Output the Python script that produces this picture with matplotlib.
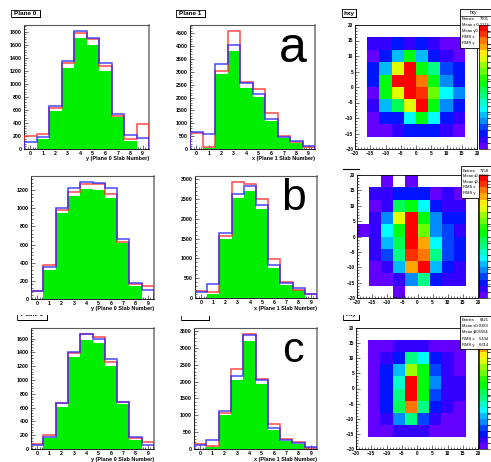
import colorsys
import numpy as np
import matplotlib
matplotlib.use('Agg')
import matplotlib.pyplot as plt
from matplotlib.patches import Rectangle
from matplotlib.lines import Line2D
from matplotlib.colors import ListedColormap, BoundaryNorm
from matplotlib.ticker import MultipleLocator
from matplotlib.transforms import Bbox, TransformedBbox

plt.rcParams['font.family'] = ['Liberation Sans', 'DejaVu Sans']
plt.rcParams['font.weight'] = 'bold'

# --------------------------------------------
# dados

slab_edges = np.arange(11) - 0.5

# linha a
p0_red_a = [200, 230, 635, 1325, 1780, 1680, 1270, 510, 150, 380]
p0_blue_a = [100, 180, 655, 1355, 1810, 1705, 1320, 530, 210, 170]
p0_green_a = [0, 160, 590, 1240, 1700, 1600, 1200, 490, 130, 0]
p1_red_a = [640, 90, 3050, 4600, 2600, 2320, 1410, 510, 270, 90]
p1_blue_a = [660, 580, 3300, 4050, 2560, 2130, 1170, 480, 300, 100]
p1_green_a = [0, 40, 2910, 3800, 2390, 2010, 1090, 440, 220, 0]

# linha b
p0_red_b = [90, 375, 980, 1175, 1270, 1270, 1155, 630, 160, 140]
p0_blue_b = [85, 355, 1000, 1220, 1290, 1275, 1220, 660, 175, 100]
p0_green_b = [0, 320, 945, 1130, 1210, 1205, 1115, 615, 140, 0]
p1_red_b = [170, 150, 1560, 2940, 2880, 2500, 980, 400, 210, 100]
p1_blue_b = [160, 350, 1650, 2640, 2840, 2360, 840, 380, 265, 100]
p1_green_b = [0, 100, 1500, 2530, 2720, 2240, 760, 340, 200, 0]

# linha c
p0_red_c = [70, 200, 665, 1385, 1670, 1630, 1255, 680, 155, 95]
p0_blue_c = [60, 180, 660, 1400, 1660, 1600, 1305, 680, 180, 60]
p0_green_c = [0, 160, 615, 1330, 1575, 1530, 1205, 645, 135, 0]
p1_red_c = [140, 75, 1070, 2370, 3420, 2080, 730, 300, 200, 30]
p1_blue_c = [130, 265, 1140, 2170, 3380, 2050, 610, 270, 190, 60]
p1_green_c = [0, 50, 1000, 2060, 3210, 1940, 560, 240, 145, 0]

# hxy: linhas de cima (y 12..16) para baixo (y -16..-12), x de -16 a 16
hxy_a = [
    [40, 40, 66, 40, 66, 40, 13, 13],
    [13, 66, 146, 278, 146, 66, 40, 13],
    [66, 146, 384, 517, 278, 225, 93, 66],
    [66, 278, 517, 517, 464, 278, 119, 66],
    [13, 278, 384, 517, 490, 331, 172, 119],
    [40, 146, 252, 384, 517, 278, 119, 66],
    [13, 66, 66, 172, 278, 172, 66, 40],
    [13, 13, 40, 66, 66, 66, 40, 13],
]
hxy_b = [
    [32, 32, 54, 54, 54, 11, 32, 11],
    [11, 32, 204, 226, 140, 54, 32, 32],
    [32, 97, 312, 419, 226, 97, 54, 54],
    [32, 140, 226, 419, 269, 97, 75, 32],
    [32, 118, 204, 419, 355, 140, 75, 54],
    [32, 75, 183, 398, 376, 183, 75, 54],
    [11, 32, 118, 355, 419, 118, 54, 32],
    [11, 11, 32, 97, 183, 54, 32, 32],
]
# celulas fora da grade 8x8: (x esquerdo, y de baixo, conteudo)
hxy_b_extra = [(-12, 16, 11), (-4, 16, 11), (-20, 0, 11), (-8, -20, 11)]
hxy_c = [
    [17, 17, 52, 52, 52, 17, 17, 17],
    [17, 52, 86, 293, 224, 86, 52, 17],
    [17, 86, 190, 466, 362, 121, 52, 17],
    [17, 86, 259, 673, 362, 155, 52, 52],
    [17, 86, 293, 673, 362, 121, 52, 52],
    [17, 86, 328, 604, 293, 86, 52, 17],
    [17, 52, 155, 293, 121, 52, 17, 17],
    [17, 17, 52, 52, 52, 17, 17, 17],
]

stats_a = [("Entries", "7601"), ("Mean x", "-0.2113"), ("Mean y", "-0.3046"),
           ("RMS x", "6.102"), ("RMS y", "6.874")]
stats_b = [("Entries", "7158"), ("Mean x", "-0.0332"), ("Mean y", "-0.4127"),
           ("RMS x", "5.933"), ("RMS y", "7.215")]
stats_c = [("Entries", "6421"), ("Mean x", "-0.0383"), ("Mean y", "0.05564"),
           ("RMS x", "5.434"), ("RMS y", "6.614")]

# --------------------------------------------
# figura em pixels

W, H = 491, 462
fig = plt.figure(figsize=(W / 100, H / 100), dpi=100)


def fx(x):
    return x / W


def fy(y):
    return 1 - y / H


def px_axes(l, t, r, b):
    return fig.add_axes([fx(l), fy(b), (r - l) / W, (b - t) / H])


def fline(xs, ys, **kw):
    fig.add_artist(Line2D([fx(x) for x in xs], [fy(y) for y in ys],
                          transform=fig.transFigure, **kw))


def title_box(l, t, r, b, text, cut=None):
    # cut: y acima do qual a caixa foi cortada na montagem
    top = t if cut is None else cut
    fig.add_artist(Rectangle((fx(l + 1), fy(b + 1)), (r - l) / W, (b + 1 - max(top, t + 1)) / H,
                             transform=fig.transFigure, facecolor='black',
                             edgecolor='none', zorder=4))
    fig.add_artist(Rectangle((fx(l), fy(b)), (r - l) / W, (b - top) / H,
                             transform=fig.transFigure, facecolor='white',
                             edgecolor='none', zorder=5))
    fline([l, l, r, r], [top, b, b, top], color='black', lw=0.6, zorder=5.5)
    if cut is None:
        fline([l, r], [t, t], color='black', lw=0.6, zorder=5.5)
    txt = fig.text(fx((l + r) / 2), fy((t + b) / 2 + 0.3), text, fontsize=4.6,
                   ha='center', va='center', zorder=6)
    if cut is not None:
        clip = TransformedBbox(Bbox([[fx(l), fy(b)], [fx(r), fy(top)]]), fig.transFigure)
        txt.set_clip_box(clip)
        txt.set_clip_on(True)


def hist_panel(box, red, blue, green, major, xlabel, label_y):
    ax = px_axes(*box)
    ax.stairs(green, slab_edges, fill=True, color='#00ee00', lw=0, zorder=2)
    ax.stairs(red, slab_edges, color='#ff2828', lw=1.1, alpha=0.85, zorder=3)
    ax.stairs(blue, slab_edges, color='#2828ff', lw=1.1, alpha=0.85, zorder=3)
    ax.set_xlim(-0.5, 9.5)
    ax.set_ylim(0, 1.05 * max(max(red), max(blue), max(green)))
    ax.set_axisbelow(True)
    ax.xaxis.set_major_locator(MultipleLocator(1))
    ax.xaxis.set_minor_locator(MultipleLocator(0.2))
    ax.yaxis.set_major_locator(MultipleLocator(major))
    ax.yaxis.set_minor_locator(MultipleLocator(major / 5))
    ax.tick_params(which='both', direction='in', labelsize=3.8, pad=1.5, width=0.4)
    ax.tick_params(which='major', length=3)
    ax.tick_params(which='minor', length=1.5)
    for s in ['left', 'bottom']:
        ax.spines[s].set_linewidth(0.6)
    ax.spines['top'].set_color('0.35')
    ax.spines['top'].set_linewidth(0.8)
    ax.spines['right'].set_color('0.45')
    ax.spines['right'].set_linewidth(1.1)
    fig.text(fx(box[2]), fy(label_y), xlabel, fontsize=4.0, ha='right', va='center')
    return ax


# palheta "pretty" do ROOT, 20 niveis
pal = []
for k in range(20):
    i = min(int((k + 0.99) * 50 / 20), 49)
    hue = 280 - (i + 1) * 5.6
    pal.append(colorsys.hls_to_rgb(hue / 360, 0.5, 1.0))
root_cmap = ListedColormap(pal)


def hxy_panel(box, cbox, grid, extra, vmax, cstep, lines, stat_box, cbar_on_top):
    full = np.full((10, 10), np.nan)
    full[1:9, 1:9] = np.array(grid, dtype=float)[::-1]
    for xl, yb, v in extra:
        full[(yb + 20) // 4, (xl + 20) // 4] = v
    cells = np.ma.masked_invalid(full)
    ed = np.arange(-20, 21, 4)
    ax = px_axes(*box)
    norm = BoundaryNorm(np.linspace(0, vmax, 21), 20)
    mesh = ax.pcolormesh(ed, ed, cells, cmap=root_cmap, norm=norm)
    ax.set_xlim(-20, 20)
    ax.set_ylim(-20, 20)
    for a in [ax.xaxis, ax.yaxis]:
        a.set_major_locator(MultipleLocator(5))
        a.set_minor_locator(MultipleLocator(1))
    ax.tick_params(which='both', direction='in', labelsize=3.4, pad=1.2, width=0.4)
    ax.tick_params(which='major', length=3)
    ax.tick_params(which='minor', length=1.5)
    for s in ax.spines.values():
        s.set_linewidth(0.6)

    cax = px_axes(*cbox)
    cb = fig.colorbar(mesh, cax=cax)
    cb.set_ticks(np.arange(0, vmax, cstep))
    cb.outline.set_linewidth(0.5)
    cax.tick_params(direction='out', length=2, width=0.4, labelsize=3.6, pad=0.5)
    if cbar_on_top:
        cax.set_zorder(10)

    l, t, r, b, title, y0, dy = stat_box
    fig.add_artist(Rectangle((fx(l), fy(b)), (r - l) / W, (b - t) / H,
                             transform=fig.transFigure, facecolor='white',
                             edgecolor='black', lw=0.6, zorder=5))
    if title:
        fline([l, r], [t + 7, t + 7], color='k', lw=0.5, zorder=6)
        fig.text(fx(l + 13), fy(t + 3.5), title, fontsize=3.4, ha='center',
                 va='center', fontweight='normal', zorder=6)
    for n, (name, val) in enumerate(lines):
        yy = y0 + n * dy
        fig.text(fx(l + 2), fy(yy), name, fontsize=3.0, ha='left', va='center',
                 fontweight='normal', zorder=6)
        fig.text(fx(489), fy(yy), val, fontsize=3.0, ha='right', va='center',
                 fontweight='normal', zorder=6)
    return ax


# --------------------------------------------
# linha a
hist_panel((24, 25, 149, 149), p0_red_a, p0_blue_a, p0_green_a, 200,
           'y (Plane 0 Slab Number)', 158.5)
hist_panel((190, 25, 315, 149), p1_red_a, p1_blue_a, p1_green_a, 500,
           'x (Plane 1 Slab Number)', 158.5)
hxy_panel((355, 25, 477, 149), (479, 25, 487, 149), hxy_a, [], 530, 50,
          stats_a, (460, 9, 500, 48, 'hxy', 19, 6), True)
title_box(11, 10, 40, 17, 'Plane 0')
title_box(176, 10, 205, 17, 'Plane 1')
title_box(342, 9, 356, 17, 'hxy')

# linha b
hist_panel((31, 176, 154, 299), p0_red_b, p0_blue_b, p0_green_b, 200,
           'y (Plane 0 Slab Number)', 308.5)
hist_panel((195, 176, 317, 298), p1_red_b, p1_blue_b, p1_green_b, 500,
           'x (Plane 1 Slab Number)', 308.5)
hxy_panel((357, 175, 478, 298), (479, 175, 487, 298), hxy_b, hxy_b_extra, 430, 50,
          stats_b, (461, 166, 500, 198, None, 171, 5.4), True)
fline([343, 359], [169, 169], color='k', lw=0.8)

# linha c
hist_panel((31, 328, 154, 449), p0_red_c, p0_blue_c, p0_green_c, 200,
           'y (Plane 0 Slab Number)', 459)
hist_panel((194, 328, 317, 449), p1_red_c, p1_blue_c, p1_green_c, 500,
           'x (Plane 1 Slab Number)', 459)
hxy_panel((356, 328, 478, 449), (479, 328, 487, 449), hxy_c, [], 690, 100,
          stats_c, (460, 316, 500, 349, None, 320, 6.2), False)
title_box(17, 309, 47, 320, 'Plane 0', cut=314.5)
title_box(181, 309, 209, 320, 'Plane 1', cut=315.5)
title_box(343, 309, 359, 320, 'hxy', cut=314.5)

# letras
fig.text(fx(293), fy(62), 'a', fontsize=36, ha='center', va='baseline', fontweight='normal')
fig.text(fx(294), fy(210), 'b', fontsize=32, ha='center', va='baseline', fontweight='normal')
fig.text(fx(293), fy(362), 'c', fontsize=31, ha='center', va='baseline', fontweight='normal')

fig.savefig('out.png', dpi=100)
